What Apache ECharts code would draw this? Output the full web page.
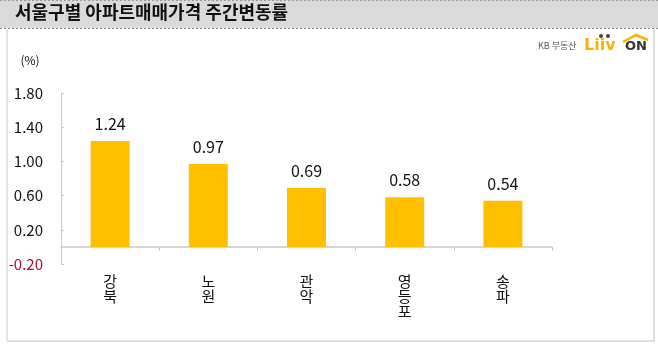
<!DOCTYPE html>
<html>
<head>
<meta charset="utf-8">
<script src="https://cdn.jsdelivr.net/npm/echarts@6/dist/echarts.min.js"></script>
<style>
html,body{margin:0;padding:0;background:#fff;}
#c{width:658px;height:344px;}
</style>
</head>
<body>
<div id="c"></div>
<script>
var categories = ['강북', '노원', '관악', '영등포', '송파'];
var values = [1.24, 0.97, 0.69, 0.58, 0.54];
var yMin = -0.2, yMax = 1.8, yStep = 0.4;
var titleText = '서울구별 아파트매매가격 주간변동률';
var unitText = '(%)';

var FONT = '"Noto Sans CJK KR", "Noto Sans", sans-serif';
var chart = echarts.init(document.getElementById('c'), null, {renderer: 'canvas'});
chart.setOption({
  backgroundColor: '#fff',
  animation: false,
  grid: {left: 61, right: 106, top: 93, bottom: 80, containLabel: false},
  xAxis: {
    type: 'category',
    data: categories,
    boundaryGap: true,
    axisLine: {onZero: true, lineStyle: {color: '#c8c8c8', width: 1.5}},
    axisTick: {show: true, length: 4, lineStyle: {color: '#c8c8c8'}},
    axisLabel: {
      margin: 10,
      verticalAlign: 'top',
      fontFamily: FONT,
      fontSize: 15,
      lineHeight: 15,
      color: '#111',
      formatter: function (v) { return v.split('').join('\n'); }
    }
  },
  yAxis: {
    type: 'value',
    min: yMin, max: yMax, interval: yStep,
    axisLine: {show: true, lineStyle: {color: '#c8c8c8'}},
    axisTick: {show: true, inside: true, length: 3, lineStyle: {color: '#c8c8c8'}},
    splitLine: {show: false},
    axisLabel: {
      margin: 18,
      fontFamily: FONT,
      fontSize: 15,
      formatter: function (v) {
        var s = (Math.round(v * 100) / 100).toFixed(2);
        return v < 0 ? '{neg|' + s + '}' : '{pos|' + s + '}';
      },
      rich: {
        pos: {color: '#111', fontFamily: FONT, fontSize: 15},
        neg: {color: '#a5112a', fontFamily: FONT, fontSize: 15}
      }
    }
  },
  series: [{
    type: 'bar',
    data: values,
    barWidth: 39,
    itemStyle: {color: '#FFC000'},
    label: {
      show: true,
      position: 'top',
      distance: 9,
      fontFamily: FONT,
      fontSize: 16,
      color: '#111',
      formatter: function (p) { return p.value.toFixed(2); }
    }
  }],
  graphic: [
    {type: 'rect', shape: {x: 0, y: 0, width: 658, height: 28}, style: {fill: '#dadada', stroke: null}, z: -10},
    {type: 'line', shape: {x1: 0, y1: 28.5, x2: 658, y2: 28.5}, style: {stroke: '#8a8a8a', lineWidth: 1, lineDash: [2, 2]}},
    {type: 'line', shape: {x1: 0, y1: 0.5, x2: 658, y2: 0.5}, style: {stroke: '#9a9a9a', lineWidth: 1, lineDash: [2, 2]}},
    {type: 'line', shape: {x1: 7, y1: 29, x2: 7, y2: 341}, style: {stroke: '#c8c8c8', lineWidth: 1}},
    {type: 'line', shape: {x1: 654, y1: 29, x2: 654, y2: 341}, style: {stroke: '#d4d4d4', lineWidth: 1.5}},
    {type: 'line', shape: {x1: 7, y1: 341, x2: 654, y2: 341}, style: {stroke: '#d4d4d4', lineWidth: 1.5}},
    {type: 'text', left: 15, top: 3, style: {text: titleText, font: 'bold 18px ' + FONT, fill: '#111'}},
    {type: 'text', x: 30, y: 60, style: {text: unitText, font: '12px ' + FONT, fill: '#111', align: 'center', verticalAlign: 'middle'}},
    {type: 'text', x: 538, y: 46, style: {text: 'KB 부동산', font: '9px ' + FONT, fill: '#555', verticalAlign: 'middle'}},
    {type: 'text', x: 584, y: 46, style: {text: 'Liiv', font: 'bold 16px "DejaVu Sans"', fill: '#F5B400', verticalAlign: 'middle'}},
    {type: 'circle', shape: {cx: 601, cy: 36, r: 2}, style: {fill: '#444'}},
    {type: 'circle', shape: {cx: 608, cy: 36, r: 2}, style: {fill: '#444'}},
    {type: 'text', x: 625, y: 47, style: {text: 'ON', font: 'bold 13px "DejaVu Sans"', fill: '#333', verticalAlign: 'middle'}},
    {type: 'polyline', shape: {points: [[623, 42], [636, 35], [648, 40]]}, style: {stroke: '#F5B400', lineWidth: 2.5, fill: null}}
  ]
});
</script>
</body>
</html>
